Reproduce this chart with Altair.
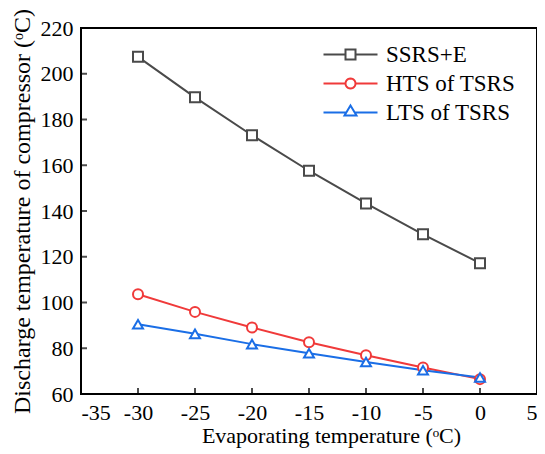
import math
import altair as alt
import pandas as pd

evap = [-30, -25, -20, -15, -10, -5, 0]
ssrs_e = [207.4, 189.7, 173.1, 157.6, 143.3, 129.8, 117.2]
hts_tsrs = [103.6, 95.9, 89.1, 82.6, 76.9, 71.6, 66.5]
lts_tsrs = [90.5, 86.3, 81.8, 77.8, 74.0, 70.4, 67.2]

series_names = ["SSRS+E", "HTS of TSRS", "LTS of TSRS"]
series_colors = ["#4a4a4a", "#f03a3a", "#1a6ee6"]
marker_shapes = ["square", "circle", "triangle-up"]

# legend symbols: a short line with the series marker on it (plain M/L/Z paths)
circle_poly = "L".join(
    f"{math.cos(2 * math.pi * k / 24):.3f},{math.sin(2 * math.pi * k / 24):.3f}" for k in range(24)
)
legend_paths = [
    "M-5.4,0L-1,0M1,0L5.4,0M-1,-1L1,-1L1,1L-1,1Z",
    "M-5.4,0L-1,0M1,0L5.4,0M" + circle_poly + "Z",
    "M-5.4,0L-0.84,0M0.84,0L5.4,0M0,-1.4L1.2,0.6L-1.2,0.6Z",
]

x_ticks = [-35, -30, -25, -20, -15, -10, -5, 0, 5]
y_ticks = [60, 80, 100, 120, 140, 160, 180, 200, 220]

rows = []
for name, vals in zip(series_names, [ssrs_e, hts_tsrs, lts_tsrs]):
    for xv, yv in zip(evap, vals):
        rows.append({"evap": xv, "temp": yv, "series": name})
df = pd.DataFrame(rows)

FONT = "Liberation Serif"
AXIS_FS = 22
LEG_FS = 23

xscale = alt.Scale(domain=[-35, 5], nice=False)
yscale = alt.Scale(domain=[60, 220], nice=False)
color_scale = alt.Scale(domain=series_names, range=series_colors)

x_enc = alt.X(
    "evap:Q",
    scale=xscale,
    axis=alt.Axis(
        values=x_ticks,
        title="Evaporating temperature  (ᵒC)",
        titleX=250,
        titleAlign="center",
        titlePadding=2,
        labelPadding=8,
        labelFont=FONT,
        labelFontSize=AXIS_FS,
        labelExpr="replace(datum.label, '−', '-')",
        ticks=False,
        domain=False,
        grid=False,
    ),
)
y_enc = alt.Y(
    "temp:Q",
    scale=yscale,
    axis=alt.Axis(
        values=y_ticks,
        title="Discharge temperature of compressor (ᵒC)",
        titleFontSize=24,
        titlePadding=6,
        labelPadding=8,
        labelFont=FONT,
        labelFontSize=AXIS_FS,
        ticks=False,
        domain=False,
        grid=False,
    ),
)

lines = alt.Chart(df).mark_line(strokeWidth=2).encode(
    x=x_enc,
    y=y_enc,
    color=alt.Color("series:N", scale=color_scale, legend=None),
    detail="series:N",
)

point_layers = []
for name, shp in zip(series_names, marker_shapes):
    point_layers.append(
        alt.Chart(df)
        .transform_filter(alt.datum.series == name)
        .mark_point(filled=False, fill="white", size=100, strokeWidth=2, opacity=1, shape=shp)
        .encode(
            x="evap:Q",
            y="temp:Q",
            color=alt.Color("series:N", scale=color_scale, legend=None),
        )
    )

leg = alt.Legend(
    title=None,
    orient="none",
    legendX=258,
    legendY=15,
    labelFont=FONT,
    labelFontSize=LEG_FS,
    labelColor="black",
    labelOffset=24,
    rowPadding=5,
    symbolStrokeWidth=2,
    symbolFillColor="white",
    symbolOpacity=1,
    symbolSize=100,
)

# legend-only layer: its marks sit below the y domain and are clipped away
legend_layer = alt.Chart(df).mark_point(
    filled=False, fill="white", size=100, strokeWidth=2, opacity=1, clip=True
).encode(
    x="evap:Q",
    y=alt.datum(0, scale=yscale),
    color=alt.Color("series:N", scale=color_scale, legend=leg),
    shape=alt.Shape(
        "series:N",
        scale=alt.Scale(domain=series_names, range=legend_paths),
        legend=leg,
    ),
)

xtick_df = pd.DataFrame({"t": x_ticks})
ytick_df = pd.DataFrame({"t": y_ticks})

xticks = alt.Chart(xtick_df).mark_tick(color="black", size=12, thickness=2, clip=True, orient="vertical").encode(
    x=alt.X("t:Q", scale=xscale),
    y=alt.datum(60, scale=yscale),
)
yticks = alt.Chart(ytick_df).mark_tick(color="black", size=12, thickness=2, clip=True, orient="horizontal").encode(
    y=alt.Y("t:Q", scale=yscale),
    x=alt.datum(-35, scale=xscale),
)

chart = (
    alt.layer(legend_layer, lines, *point_layers, xticks, yticks)
    .properties(width=456, height=366, padding={"left": 2, "top": 0, "right": 0, "bottom": 2})
    .configure_view(stroke="black", strokeWidth=2)
    .configure_axis(
        labelFont=FONT,
        titleFont=FONT,
        labelFontSize=AXIS_FS,
        titleFontSize=AXIS_FS,
        labelColor="black",
        titleColor="black",
        titleFontWeight="normal",
    )
)

chart.save("out.html", embed_options={"renderer": "svg", "actions": False})
